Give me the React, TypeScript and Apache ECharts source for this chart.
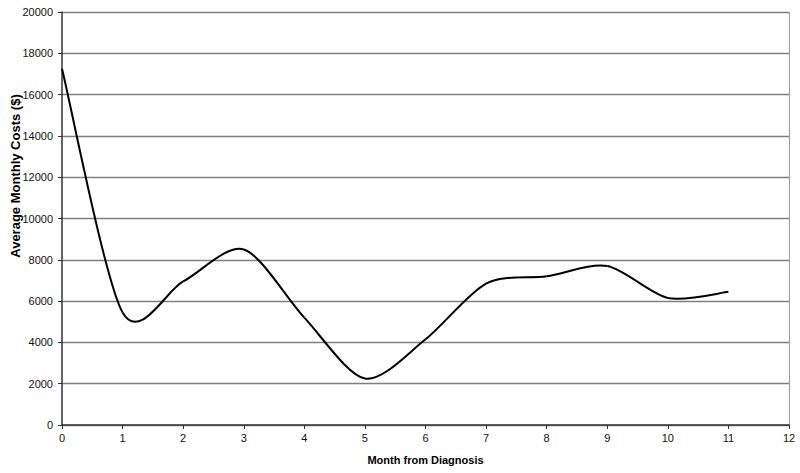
import React, { useEffect, useRef } from "react";
import * as echarts from "echarts";

const months = [0, 1, 2, 3, 4, 5, 6, 7, 8, 9, 10, 11];
const costs = [17250, 5450, 6950, 8500, 5200, 2250, 4150, 6850, 7200, 7700, 6150, 6450];
const xAxisTitle = "Month from Diagnosis";
const yAxisTitle = "Average Monthly Costs ($)";

export default function App() {
  const ref = useRef<HTMLDivElement>(null);
  useEffect(() => {
    if (!ref.current) return;
    const chart = echarts.init(ref.current, null, { renderer: "svg" });
    const font = "'Liberation Sans Narrow', 'Liberation Sans', Arial, sans-serif";
    const data = months.map((m, i) => [m, costs[i]]);
    const n = data.length;
    const tension = 1 / 7;
    chart.setOption({
      animation: false,
      backgroundColor: "#ffffff",
      grid: { left: 62, right: 11, top: 12, bottom: 48, containLabel: false, outerBoundsMode: "none" },
      xAxis: {
        type: "value",
        min: 0,
        max: 12,
        interval: 1,
        name: xAxisTitle,
        nameLocation: "middle",
        nameGap: 29,
        nameTextStyle: { fontFamily: font, fontSize: 11, fontWeight: "bold", color: "#000" },
        axisLine: { show: true, lineStyle: { color: "#333", width: 1.5 } },
        axisTick: { show: true, length: 4, lineStyle: { color: "#333" } },
        axisLabel: { fontFamily: font, fontSize: 11, color: "#111", margin: 7 },
        splitLine: { show: false },
      },
      yAxis: [
        {
          type: "value",
          min: 0,
          max: 20000,
          interval: 2000,
          axisLine: { show: true, lineStyle: { color: "#333", width: 1.5 } },
          axisTick: { show: true, length: 4, lineStyle: { color: "#333" } },
          axisLabel: {
            fontFamily: font,
            fontSize: 11,
            color: "#111",
            margin: 9,
            formatter: (v: number) => String(v),
          },
          splitLine: { show: true, lineStyle: { color: "#808080", width: 1.4 } },
        },
        {
          type: "value",
          min: 0,
          max: 20000,
          interval: 2000,
          position: "right",
          axisLine: { show: true, lineStyle: { color: "#a0a0a0", width: 1.2 } },
          axisTick: { show: false },
          axisLabel: { show: false },
          splitLine: { show: false },
        },
      ],
      graphic: [
        {
          type: "text",
          x: 15,
          y: 176,
          rotation: Math.PI / 2,
          style: {
            text: yAxisTitle,
            fontFamily: font,
            fontSize: 13,
            fontWeight: "bold",
            fill: "#000",
            align: "center",
            verticalAlign: "middle",
          },
        },
      ],
      series: [
        {
          type: "custom",
          data: data,
          clip: false,
          renderItem: (params: any, api: any) => {
            const i = params.dataIndex;
            if (i >= n - 1) return null;
            const p = (k: number) => {
              const kk = Math.max(0, Math.min(n - 1, k));
              return api.coord(data[kk]);
            };
            const p0 = p(i - 1);
            const p1 = p(i);
            const p2 = p(i + 1);
            const p3 = p(i + 2);
            return {
              type: "bezierCurve",
              shape: {
                x1: p1[0],
                y1: p1[1],
                x2: p2[0],
                y2: p2[1],
                cpx1: p1[0] + (p2[0] - p0[0]) * tension,
                cpy1: p1[1] + (p2[1] - p0[1]) * tension,
                cpx2: p2[0] - (p3[0] - p1[0]) * tension,
                cpy2: p2[1] - (p3[1] - p1[1]) * tension,
              },
              style: { stroke: "#000", lineWidth: 2, fill: "none" },
            };
          },
        },
      ],
    });
    return () => chart.dispose();
  }, []);
  return <div ref={ref} style={{ width: 800, height: 473, position: "absolute", left: 0, top: 0 }} />;
}
